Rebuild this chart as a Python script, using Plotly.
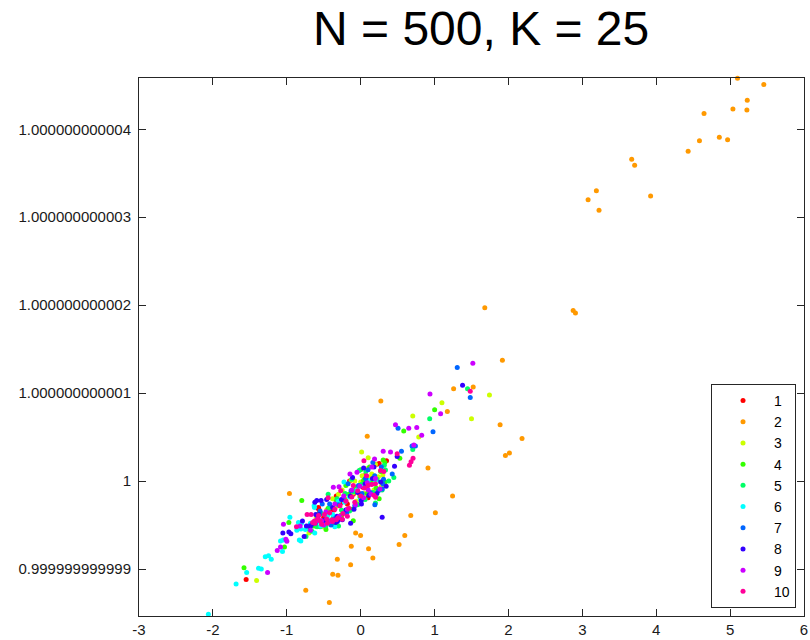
import plotly.graph_objects as go

# ---------------- data ----------------
# y values are the deviation from 1, in units of 1e-12 (y_true = 1 + y * 1e-12)
series_names = ["1", "2", "3", "4", "5", "6", "7", "8", "9", "10"]
series_colors = ["#FF0000", "#FF9900", "#CCFF00", "#33FF00", "#00FF66",
                 "#00FFFF", "#0066FF", "#3300FF", "#CC00FF", "#FF0099"]

x1 = [-0.62, -0.57, -0.56, -0.50, -0.45, -0.41, -0.36, -0.31, -0.27, -0.22, -0.18, -0.14, -0.10, -0.06, -0.02,
      0.03, 0.08, 0.13, 0.22, 0.25, 0.35, -0.58, -1.55, -0.40, -0.25, -0.05, 0.10, -0.33, -0.15, 0.05]
y1 = [-0.46, -0.30, -0.33, -0.41, -0.38, -0.32, -0.33, -0.28, -0.25, -0.20, -0.26, -0.15, -0.15, -0.09, -0.14,
      -0.07, -0.06, -0.01, 0.19, 0.20, 0.23, -0.31, -1.12, -0.49, -0.38, -0.26, -0.19, -0.17, 0.00, 0.06]

x2 = [5.10, 5.456, 5.232, 5.227, 5.038, 4.647, 4.854, 4.966, 4.585, 4.432, 3.668, 3.708, 3.190, 3.078, 3.226,
      3.924, 2.876, 2.907, 1.680, 1.918, 1.523, 1.258, 1.173, 0.273, 0.089, 1.887, 2.184, 1.959, 2.013, 0.911,
      1.244, 1.011, 0.678, 0.597, 0.520, -0.964, -0.316, -0.378, -0.307, -0.743, -0.424, -0.613, -2.48, -0.068,
      -0.001, -0.127, 0.107, 0.165, -0.136, -0.20]
y2 = [4.58, 4.51, 4.33, 4.22, 4.23, 4.18, 3.91, 3.88, 3.87, 3.75, 3.66, 3.59, 3.30, 3.20, 3.08,
      3.24, 1.94, 1.91, 1.97, 1.375, 1.07, 1.05, 0.79, 0.91, 0.51, 0.64, 0.485, 0.29, 0.32, 0.15,
      -0.17, -0.36, -0.39, -0.62, -0.72, -0.14, -0.89, -1.06, -1.07, -1.24, -1.38, -0.51, -1.54, -0.59,
      -0.62, -0.74, -0.77, -0.875, -0.95, -0.22]

x3 = [1.743, 1.100, 1.500, 0.705, 0.786, 0.013, 0.102, -1.409, -0.70, -0.60, -0.52, -0.46, -0.40, -0.34, -0.28,
      -0.22, -0.17, -0.11, -0.06, 0.00, 0.05, 0.12, 0.18, 0.24, 0.30, -0.38, -0.08, 0.15, -0.25, 0.02, 0.20,
      -0.48, 0.28, -0.13, 0.08, -0.30]
y3 = [0.98, 0.89, 0.71, 0.74, 0.50, 0.33, 0.265, -1.13, -0.59, -0.41, -0.52, -0.33, -0.45, -0.29, -0.40,
      -0.16, -0.31, -0.14, -0.23, -0.01, -0.14, 0.04, -0.10, 0.05, 0.07, -0.20, 0.00, 0.08, -0.10, 0.06, 0.19,
      -0.48, -0.06, 0.01, 0.14, -0.15]

x4 = [-1.579, -0.797, -0.972, -1.031, 0.583, 1.001, 0.530, 0.305, 0.327, -0.72, -0.64, -0.58, -0.51, -0.44,
      -0.39, -0.33, -0.27, -0.21, -0.16, -0.12, -0.07, -0.01, 0.04, 0.09, 0.16, 0.21, 0.27, -0.35, -0.20, 0.00,
      0.12, -0.47, 0.33, -0.10, 0.25]
y4 = [-0.985, -0.22, -0.47, -0.75, 0.57, 0.81, 0.26, 0.24, 0.21, -0.54, -0.51, -0.38, -0.50, -0.31,
      -0.44, -0.23, -0.39, -0.22, -0.15, -0.32, -0.07, -0.18, 0.01, -0.14, 0.01, -0.08, 0.11, -0.50, -0.05, 0.13,
      0.16, -0.55, -0.01, -0.45, -0.20]

x5 = [1.446, 0.934, 0.705, 0.449, 0.336, -0.74, -0.66, -0.59, -0.53, -0.47, -0.42, -0.37, -0.32, -0.26, -0.21,
      -0.15, -0.09, -0.04, 0.01, 0.06, 0.11, 0.17, 0.22, 0.29, 0.38, -0.30, -0.12, 0.07, -0.55, 0.20, -0.02,
      0.32, -0.44]
y5 = [1.05, 0.71, 0.36, 0.04, 0.125, -0.63, -0.57, -0.52, -0.37, -0.51, -0.30, -0.41, -0.20, -0.33, -0.14,
      -0.34, -0.12, -0.27, -0.04, -0.21, -0.02, -0.13, 0.02, -0.10, 0.00, -0.51, 0.02, 0.11, -0.52, -0.25, 0.12,
      0.18, -0.15]

x6 = [-2.061, -1.686, -1.543, -1.382, -1.345, -1.291, -1.247, -1.210, -1.058, -1.085, -1.049, -0.958, -0.864,
      -0.842, -0.802, -0.748, -0.621, -0.626, -0.81, -0.83, -0.81, -0.56, -0.46, -0.63, -0.54, -0.45, -0.38,
      -0.30, -0.22, -0.15, -0.05, 0.00, 0.05, 0.10, 0.20, -0.226, -0.35, -0.68]
y6 = [-1.515, -1.17, -1.04, -0.99, -1.00, -0.86, -0.85, -0.89, -0.80, -0.68, -0.67, -0.41, -0.56,
      -0.47, -0.48, -0.55, -0.59, -0.30, -0.545, -0.67, -0.68, -0.46, -0.46, -0.28, -0.51, -0.40, -0.38,
      -0.23, -0.24, -0.18, -0.10, -0.21, -0.06, 0.01, 0.01, -0.01, -0.52, -0.48]

x7 = [1.307, 1.483, 0.506, 0.979, 0.695, 0.741, 0.291, 0.427, 0.309, 0.552, 0.192, 0.165, 0.067, 0.30, -0.70,
      -0.61, -0.55, -0.48, -0.42, -0.36, -0.30, -0.24, -0.19, -0.13, -0.08, -0.03, 0.02, 0.07, 0.13, 0.19, 0.24,
      -0.40, -0.17, 0.10, -0.52, 0.28]
y7 = [1.29, 0.95, 0.60, 0.56, 0.40, 0.40, -0.09, 0.08, 0.02, 0.34, -0.27, 0.21, 0.03, -0.03, -0.51,
      -0.48, -0.34, -0.44, -0.26, -0.43, -0.27, -0.21, -0.36, -0.11, -0.28, -0.05, -0.14, 0.03, -0.13, 0.06, -0.11,
      -0.50, -0.03, 0.13, -0.26, 0.16]

x8 = [-1.053, -0.972, -0.945, -0.788, -0.734, -0.680, -0.765, -0.608, -0.563, -0.518, -0.451, -0.316, -0.594,
      -0.536, -0.307, -0.249, -0.136, 0.291, 0.345, 0.458, 1.379, 0.494, 0.008, -0.66, -0.58, -0.50, -0.44,
      -0.38, -0.32, -0.26, -0.20, -0.14, -0.09, -0.04, 0.01, 0.06, 0.11, 0.16, 0.22, 0.27, -0.46, -0.34, -0.11,
      0.04, -0.62, 0.18]
y8 = [-0.59, -0.58, -0.60, -0.455, -0.51, -0.515, -0.63, -0.38, -0.38, -0.46, -0.46, -0.46, -0.22,
      -0.22, -0.44, -0.44, -0.48, -0.41, -0.06, 0.17, 1.09, 0.28, -0.22, -0.49, -0.42, -0.45, -0.45,
      -0.30, -0.40, -0.21, -0.33, -0.17, -0.32, -0.13, -0.26, -0.03, -0.16, 0.03, -0.14, -0.01, -0.21, -0.47, 0.04,
      0.15, -0.24, 0.16]

x9 = [1.518, 0.938, 1.082, 0.471, 0.651, 0.759, 0.826, 0.404, 0.305, 0.188, -1.045, -1.012, -0.999, -1.085,
      -1.129, -1.260, -0.819, -0.145, 0.102, -0.293, 0.72, -0.68, -0.60, -0.53, -0.47, -0.41, -0.35, -0.29,
      -0.23, -0.18, -0.12, -0.07, -0.01, 0.04, 0.09, 0.14, 0.20, 0.26, -0.50, -0.37, -0.05, 0.15]
y9 = [1.34, 0.99, 0.765, 0.64, 0.60, 0.61, 0.52, 0.33, 0.34, 0.25, -0.49, -0.66, -0.685, -0.75,
      -0.79, -1.04, -0.51, 0.08, -0.10, -0.065, 0.41, -0.56, -0.45, -0.45, -0.35, -0.46, -0.26, -0.40,
      -0.17, -0.32, -0.10, -0.27, -0.06, -0.19, -0.02, -0.15, 0.03, -0.09, -0.50, -0.07, 0.10, 0.16]

x10 = [0.660, 0.682, 0.709, 1.483, 0.494, 0.269, 0.313, 0.179, 0.202, -0.869, -0.725, -0.671, -0.626, -0.581,
       -0.384, -0.249, 0.044, -0.62, -0.57, -0.53, -0.49, -0.45, -0.42, -0.38, -0.35, -0.31, -0.28, -0.24,
       -0.20, -0.16, -0.12, -0.08, -0.04, 0.00, 0.05, 0.10, 0.15, -0.55, -0.46, -0.33, -0.27, -0.44, 0.20,
       -0.10, 0.08, -0.65, -0.18]
y10 = [0.18, 0.22, 0.26, 1.02, 0.31, 0.12, 0.11, -0.16, -0.185, -0.52, -0.38, -0.38, -0.455, -0.435,
       -0.44, -0.435, 0.23, -0.48, -0.39, -0.49, -0.38, -0.48, -0.36, -0.46, -0.32, -0.42, -0.28, -0.37,
       -0.23, -0.31, -0.18, -0.24, -0.11, -0.17, -0.08, -0.05, -0.04, -0.45, -0.43, -0.44, -0.11, -0.19, -0.03,
       -0.05, 0.06, -0.47, -0.40]

x_tick_vals = [-3, -2, -1, 0, 1, 2, 3, 4, 5, 6]
y_tick_vals = [-1, 0, 1, 2, 3, 4]
y_tick_text = ["0.999999999999", "1", "1.000000000001", "1.000000000002",
               "1.000000000003", "1.000000000004"]
title_text = "N = 500, K = 25"

xs = [x1, x2, x3, x4, x5, x6, x7, x8, x9, x10]
ys = [y1, y2, y3, y4, y5, y6, y7, y8, y9, y10]

# ---------------- figure ----------------
FONT = "Liberation Sans, Arial, Helvetica, sans-serif"
AX = "#262626"

fig = go.Figure()
for name, color, xv, yv in zip(series_names, series_colors, xs, ys):
    assert len(xv) == len(yv)
    fig.add_trace(go.Scatter(
        x=xv, y=yv, mode="markers", name=name,
        marker=dict(color=color, size=5, line=dict(width=0)),
        cliponaxis=False,
    ))

axis_common = dict(
    showgrid=False, zeroline=False, showline=True, linecolor=AX, linewidth=1,
    mirror="ticks", ticks="inside", ticklen=7, tickwidth=1, tickcolor=AX,
    tickfont=dict(family=FONT, size=15, color="#1a1a1a"),
    ticklabeloverflow="allow", automargin=False,
)

fig.update_layout(
    width=810, height=640,
    margin=dict(l=139, r=6, t=78, b=24, autoexpand=False),
    paper_bgcolor="white", plot_bgcolor="white",
    title=dict(text=title_text, x=0.594, xref="container", xanchor="center",
               y=0.956, yref="container", yanchor="middle",
               font=dict(family=FONT, size=48, color="#000000")),
    xaxis=dict(range=[-3, 6], tickmode="array", tickvals=x_tick_vals,
               ticktext=[str(v) for v in x_tick_vals], **axis_common),
    yaxis=dict(range=[-1.534, 4.583], tickmode="array", tickvals=y_tick_vals,
               ticktext=y_tick_text, ticklabelstandoff=4, **axis_common),
    legend=dict(x=0.988, y=0.015, xanchor="right", yanchor="bottom",
                bgcolor="white", bordercolor=AX, borderwidth=1,
                font=dict(family=FONT, size=14, color="#000000"),
                itemwidth=52, tracegroupgap=0),
    showlegend=True,
)

fig.write_html("out.html")
